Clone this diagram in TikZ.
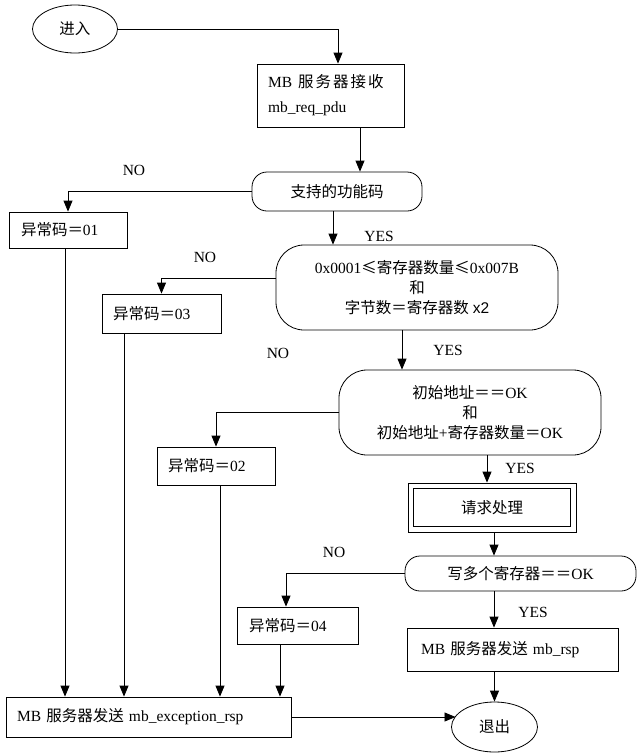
\documentclass[tikz,border=0pt]{standalone}
\usepackage{fontspec}
\setmainfont{Liberation Serif}
\newfontfamily\cjk{Noto Sans CJK SC}
\newfontfamily\sansx{Liberation Sans}
\usetikzlibrary{arrows.meta,shapes.geometric,calc}
\newcommand{\zh}[1]{{\cjk #1}}
\begin{document}
\begin{tikzpicture}[x=1pt,y=-1pt,
  base/.style={draw, line width=0.8pt, inner sep=0pt, font=\fontsize{15.5}{20}\selectfont},
  lbox/.style={base, rectangle, align=left},
  dec/.style={base, rectangle, rounded corners=#1, align=center},
  term/.style={base, ellipse},
  arr/.style={-{Triangle[length=11pt,width=9pt]}, line width=0.8pt},
  lbl/.style={font=\fontsize{15.5}{18}\selectfont, inner sep=0pt}
]
\useasboundingbox (0,0) rectangle (640,756);

% nodes
\node[term, minimum width=85pt, minimum height=48pt] (in) at (75,29) {\zh{进入}};
\node[lbox, minimum width=147pt, minimum height=63pt, text width=125pt, font=\fontsize{15.5}{25}\selectfont] (recv) at (330.5,95.5)
  {MB\hspace{6pt}\zh{服\hspace{2pt}务\hspace{2pt}器\hspace{2pt}接\hspace{2pt}收}\\mb\_req\_pdu};
\node[dec=15pt, minimum width=170pt, minimum height=39pt] (d1) at (337,191.5) {\zh{支持的功能码}};
\node[lbox, minimum width=118pt, minimum height=36pt, text width=94pt] (e01) at (68,230) {\zh{异常码＝}01};
\node[dec=28pt, minimum width=282pt, minimum height=85pt] (d2) at (417,287.5)
  {0x0001\zh{≤寄存器数量≤}0x007B\\\zh{和}\\\zh{字节数＝寄存器数} {\sansx x2}};
\node[lbox, minimum width=119pt, minimum height=39pt, text width=97pt] (e03) at (161.5,313.5) {\zh{异常码＝}03};
\node[dec=28pt, minimum width=262pt, minimum height=85pt] (d3) at (470,412.5)
  {\zh{初始地址＝＝}OK\\\zh{和}\\\zh{初始地址}+\zh{寄存器数量＝}OK};
\node[lbox, minimum width=118pt, minimum height=38pt, text width=96pt] (e02) at (216,466) {\zh{异常码＝}02};
\node[base, rectangle, minimum width=168pt, minimum height=49pt] (proc) at (492,507.5) {\zh{请求处理}};
\draw[line width=0.8pt] ([shift={(6pt,6pt)}]proc.south west) rectangle ([shift={(-6pt,-6pt)}]proc.north east);
\node[dec=15pt, minimum width=231pt, minimum height=35pt] (d4) at (520.5,573.5) {\zh{写多个寄存器＝＝}OK};
\node[lbox, minimum width=121pt, minimum height=37pt, text width=97pt] (e04) at (297.5,625.5) {\zh{异常码＝}04};
\node[lbox, minimum width=211pt, minimum height=43pt, text width=183pt] (rsp) at (512.5,649.5) {MB \zh{服务器发送} mb\_rsp};
\node[lbox, minimum width=285pt, minimum height=40pt, text width=263pt] (exc) at (148.5,717) {MB \zh{服务器发送} mb\_exception\_rsp};
\node[term, minimum width=86pt, minimum height=50pt] (out) at (494.5,727) {\zh{退出}};

% labels
\node[lbl] (n1) at (134,170) {NO};
\node[lbl] (n2) at (205,257) {NO};
\node[lbl] (n3) at (278,353) {NO};
\node[lbl] (n4) at (334,552) {NO};
\node[lbl] (y1) at (379,236) {YES};
\node[lbl] (y2) at (448,350) {YES};
\node[lbl] (y3) at (520,468) {YES};
\node[lbl] (y4) at (533,612) {YES};

% connectors
\draw[arr] (in.east) -| ([xshift=7.5pt]recv.north);
\draw[arr] ([xshift=29.5pt]recv.south) -- ([xshift=29.5pt]recv.south |- d1.north);
\draw[arr] (d1.west) -| (e01.north);
\draw[arr] ([xshift=-4pt]d1.south) -- ([xshift=-4pt]d1.south |- d2.north);
\draw[arr] ([yshift=9.5pt]d2.west) -| (e03.north);
\draw[arr] ([xshift=-15pt]d2.south) -- ([xshift=-15pt]d2.south |- d3.north);
\draw[arr] (d3.west) -| (e02.north);
\draw[arr] ([xshift=17pt]d3.south) -- ([xshift=17pt]d3.south |- proc.north);
\draw[arr] ([xshift=2pt]proc.south) -- ([xshift=2pt]proc.south |- d4.north);
\draw[arr] (d4.west) -| ([xshift=-11.5pt]e04.north);
\draw[arr] ([xshift=-26.5pt]d4.south) -- ([xshift=-26.5pt]d4.south |- rsp.north);
\draw[arr] ([xshift=-18pt]rsp.south) -- ([xshift=-18pt]rsp.south |- out.north);
\draw[arr] ([xshift=-3pt]e01.south) -- ([xshift=-3pt]e01.south |- exc.north);
\draw[arr] ([xshift=-37.5pt]e03.south) -- ([xshift=-37.5pt]e03.south |- exc.north);
\draw[arr] ([xshift=4pt]e02.south) -- ([xshift=4pt]e02.south |- exc.north);
\draw[arr] ([xshift=-17.5pt]e04.south) -- ([xshift=-17.5pt]e04.south |- exc.north);
\draw[arr] (exc.east) -- (exc.east -| out.164);
\end{tikzpicture}
\end{document}
